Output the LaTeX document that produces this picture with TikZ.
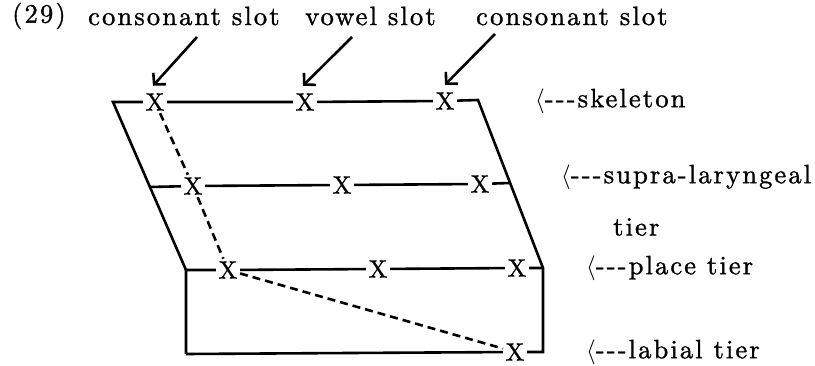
\documentclass[tikz,border=0pt]{standalone}
\usepackage{fontspec}
\setmainfont{lmroman10-regular.otf}[LetterSpace=8,FakeBold=1.2]
\newfontfamily\xfont{lmroman10-regular.otf}[FakeBold=1]
\usetikzlibrary{arrows.meta}
\begin{document}
\begin{tikzpicture}[x=1pt,y=-1pt,
  lbl/.style={font=\fontsize{26.5}{30}\selectfont, inner sep=0pt},
  xnode/.style={font=\xfont\fontsize{25}{27}\selectfont, inner sep=2.5pt},
  tierline/.style={line width=2.6pt, line join=miter},
  dashline/.style={line width=2.6pt, dash pattern=on 8pt off 5pt},
  slotarrow/.style={line width=2.6pt, -{Straight Barb[length=8pt,width=17pt,line width=2.6pt]}}]
\useasboundingbox (0,0) rectangle (815,366);
% top labels
\node[lbl, anchor=west] (num) at (12,16) {(29)};
\node[lbl, anchor=west] (c1) at (88,16) {consonant slot};
\node[lbl, anchor=west] (v) at (305,16) {vowel slot};
\node[lbl, anchor=west] (c2) at (476,16) {consonant slot};
% X nodes
\node[xnode] (s1) at (155,102) {X};
\node[xnode] (s2) at (305,102) {X};
\node[xnode] (s3) at (445,101) {X};
\node[xnode] (u1) at (193,186) {X};
\node[xnode] (u2) at (342,185) {X};
\node[xnode] (u3) at (480,184) {X};
\node[xnode] (p1) at (228,270) {X};
\node[xnode] (p2) at (378,269) {X};
\node[xnode] (p3) at (517,268) {X};
\node[xnode] (l1) at (515,352) {X};
% corners
\coordinate (skl) at (113,102);
\coordinate (skr) at (478,100);
\coordinate (sul) at (150,187);
\coordinate (sur) at (510,183);
\coordinate (pll) at (186,270);
\coordinate (plr) at (543,268);
\coordinate (lbl) at (186,354);
\coordinate (lbr) at (543,352);
% arrow starts
\coordinate (a1) at (197,37);
\coordinate (a2) at (352,37);
\coordinate (a3) at (495,34);
\draw[slotarrow] (a1) -- ([shift={(-2,-5)}]s1.north);
\draw[slotarrow] (a2) -- ([shift={(-2,-5)}]s2.north);
\draw[slotarrow] (a3) -- ([shift={(0,-5)}]s3.north);
% tiers
\draw[tierline] (pll) -- (skl) -- (s1) -- (s2) -- (s3) -- (skr) -- (plr) -- (lbr) -- (l1);
\draw[tierline] (sul) -- (u1) -- (u2) -- (u3) -- (sur);
\draw[tierline] (lbl) -- (pll) -- (p1) -- (p2) -- (p3) -- (plr);
\draw[tierline] (lbl) -- (l1);
% dashed association lines
\draw[dashline] (s1) -- (u1) -- (p1);
\draw[dashline] (p1) -- (l1);
% right labels
\node[lbl, anchor=west] (t1) at (535,101) {$\langle$-{}-{}-skeleton};
\node[lbl, anchor=west] (t2) at (561,177) {$\langle$-{}-{}-supra-laryngeal};
\node[lbl, anchor=west] (t2b) at (613,227) {tier};
\node[lbl, anchor=west] (t3) at (586,268) {$\langle$-{}-{}-place tier};
\node[lbl, anchor=west] (t4) at (586,352) {$\langle$-{}-{}-labial tier};
\end{tikzpicture}
\end{document}
